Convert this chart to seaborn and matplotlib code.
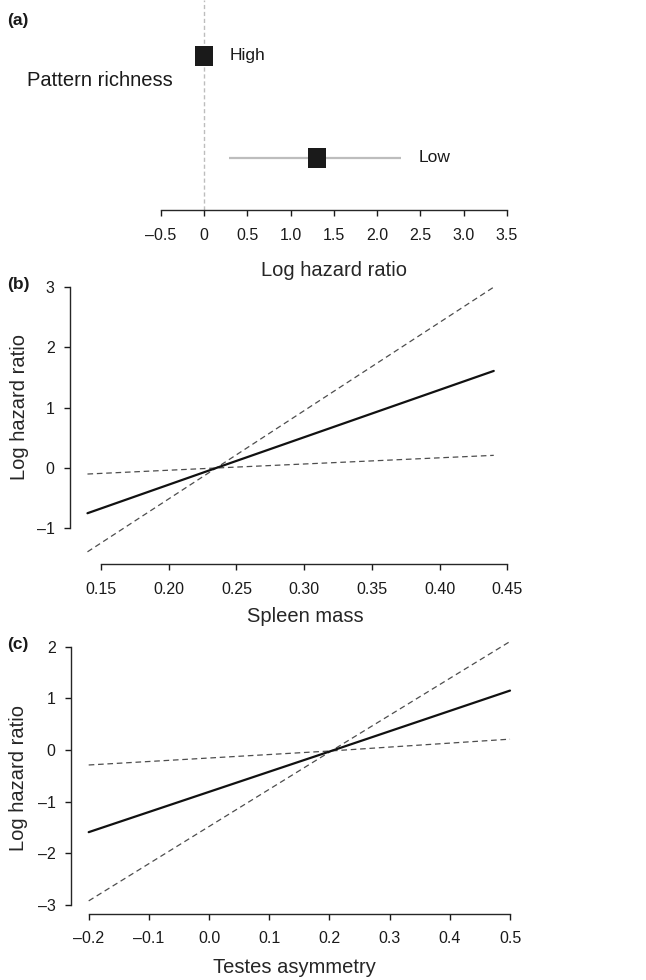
import numpy as np
import pandas as pd
import seaborn as sns
import matplotlib.pyplot as plt

# (a) pattern richness: log hazard ratio per level
levels = ["High", "Low"]
level_pos = [1, 0]
hr = [0.0, 1.30]
ci_lo = [np.nan, 0.29]
ci_hi = [np.nan, 2.28]
a_ticks = [-0.5, 0, 0.5, 1.0, 1.5, 2.0, 2.5, 3.0, 3.5]
a_labels = ["–0.5", "0", "0.5", "1.0", "1.5", "2.0", "2.5", "3.0", "3.5"]

# (b) spleen mass
spleen_x = [0.14, 0.235, 0.44]
spleen_fit = [-0.75, 0.0, 1.61]
spleen_upper = [-1.39, 0.0, 3.00]
spleen_lower = [-0.10, 0.0, 0.21]
b_xticks = [0.15, 0.20, 0.25, 0.30, 0.35, 0.40, 0.45]
b_xlabels = ["0.15", "0.20", "0.25", "0.30", "0.35", "0.40", "0.45"]
b_yticks = [-1, 0, 1, 2, 3]
b_ylabels = ["–1", "0", "1", "2", "3"]

# (c) testes asymmetry
testes_x = [-0.2, 0.2, 0.5]
testes_fit = [-1.59, -0.03, 1.15]
testes_upper = [-2.92, -0.04, 2.10]
testes_lower = [-0.29, -0.02, 0.21]
c_xticks = [-0.2, -0.1, 0.0, 0.1, 0.2, 0.3, 0.4, 0.5]
c_xlabels = ["–0.2", "–0.1", "0.0", "0.1", "0.2", "0.3", "0.4", "0.5"]
c_yticks = [-3, -2, -1, 0, 1, 2]
c_ylabels = ["–3", "–2", "–1", "0", "1", "2"]

sns.set_theme(style="ticks")
plt.rcParams['font.family'] = ['Liberation Sans', 'DejaVu Sans']
plt.rcParams['axes.linewidth'] = 1.0
plt.rcParams['xtick.major.width'] = 1.0
plt.rcParams['ytick.major.width'] = 1.0
plt.rcParams['xtick.major.size'] = 4
plt.rcParams['ytick.major.size'] = 4
plt.rcParams['text.color'] = '#1a1a1a'
plt.rcParams['xtick.color'] = '#1a1a1a'
plt.rcParams['ytick.color'] = '#1a1a1a'

W, H = 646, 980
fig = plt.figure(figsize=(W / 100, H / 100), dpi=100)


def px_axes(left, top, right, bottom):
    return fig.add_axes([left / W, 1 - bottom / H, (right - left) / W, (bottom - top) / H])


TICK = 11.5
LAB = 14.5

# ---------------- (a)
ax = px_axes(161, 0, 510, 210)
df_a = pd.DataFrame({"level": levels, "pos": level_pos, "hr": hr, "lo": ci_lo, "hi": ci_hi})
ax.axvline(0, color='#bdbdbd', lw=1, ls=(0, (3, 2)))
ci = df_a.dropna()
ax.hlines(ci["pos"], ci["lo"], ci["hi"], color='#bdbdbd', lw=1.6)
rect = [(-0.42, -0.5), (0.42, -0.5), (0.42, 0.5), (-0.42, 0.5)]
sns.scatterplot(data=df_a, x="hr", y="pos", marker=rect, s=225, color='#1a1a1a',
                linewidth=0, ax=ax, zorder=3)
for _, r in df_a.iterrows():
    xoff = 0.29 if r["level"] == "High" else 2.48
    ax.text(xoff, r["pos"], r["level"], fontsize=12.5, va='center', ha='left')
ax.set_xlim(-0.5, 3.535)
ax.set_ylim(-0.51, 1.549)
for s in ["left", "right", "top"]:
    ax.spines[s].set_visible(False)
ax.spines["bottom"].set_bounds(-0.5, 3.5)
ax.set_yticks([])
ax.set_xticks(a_ticks)
ax.set_xticklabels(a_labels, fontsize=TICK)
ax.tick_params(axis='x', pad=9)
ax.set_ylabel("")
ax.set_xlabel("Log hazard ratio", fontsize=LAB, va='center')
ax.xaxis.set_label_coords((334 - 161) / 349, (210 - 270) / 210)
fig.text(27 / W, 1 - 81 / H, "Pattern richness", fontsize=LAB, ha='left', va='center')


def curve_panel(ax, x, fit, upper, lower):
    df = pd.DataFrame({"x": x, "fit": fit, "upper": upper, "lower": lower})
    sns.lineplot(data=df, x="x", y="upper", color='#4d4d4d', lw=0.9,
                 linestyle=(0, (4.5, 3)), ax=ax)
    sns.lineplot(data=df, x="x", y="lower", color='#4d4d4d', lw=0.9,
                 linestyle=(0, (4.5, 3)), ax=ax)
    sns.lineplot(data=df, x="x", y="fit", color='#111111', lw=1.6, ax=ax)
    for s in ["right", "top"]:
        ax.spines[s].set_visible(False)


# ---------------- (b)
ax = px_axes(70, 280, 510, 564)
curve_panel(ax, spleen_x, spleen_fit, spleen_upper, spleen_lower)
ax.set_xlim(0.1271, 0.452)
ax.set_ylim(-1.592, 3.118)
ax.spines["bottom"].set_bounds(0.15, 0.45)
ax.spines["left"].set_bounds(-1, 3)
ax.set_xticks(b_xticks)
ax.set_xticklabels(b_xlabels, fontsize=TICK)
ax.set_yticks(b_yticks)
ax.set_yticklabels(b_ylabels, fontsize=TICK)
ax.tick_params(axis='x', pad=9)
ax.tick_params(axis='y', pad=7)
ax.set_xlabel("Spleen mass", fontsize=LAB, va='center')
ax.xaxis.set_label_coords((305 - 70) / 440, (564 - 617) / 284)
ax.set_ylabel("Log hazard ratio", fontsize=LAB, va='center')
ax.yaxis.set_label_coords((20 - 70) / 440, (564 - 407) / 284)

# ---------------- (c)
ax = px_axes(71, 640, 512, 914)
curve_panel(ax, testes_x, testes_fit, testes_upper, testes_lower)
ax.set_xlim(-0.2294, 0.5033)
ax.set_ylim(-3.174, 2.129)
ax.spines["bottom"].set_bounds(-0.2, 0.5)
ax.spines["left"].set_bounds(-3, 2)
ax.set_xticks(c_xticks)
ax.set_xticklabels(c_xlabels, fontsize=TICK)
ax.set_yticks(c_yticks)
ax.set_yticklabels(c_ylabels, fontsize=TICK)
ax.tick_params(axis='x', pad=8)
ax.tick_params(axis='y', pad=7)
ax.set_xlabel("Testes asymmetry", fontsize=LAB, va='center')
ax.xaxis.set_label_coords((294 - 71) / 441, (914 - 967) / 274)
ax.set_ylabel("Log hazard ratio", fontsize=LAB, va='center')
ax.yaxis.set_label_coords((19 - 71) / 441, (914 - 778) / 274)

# panel letters
for lab, y in [("(a)", 20), ("(b)", 284), ("(c)", 645)]:
    fig.text(7 / W, 1 - y / H, lab, fontsize=12.5, fontweight='bold', ha='left', va='center')

fig.savefig("out.png", dpi=100)
